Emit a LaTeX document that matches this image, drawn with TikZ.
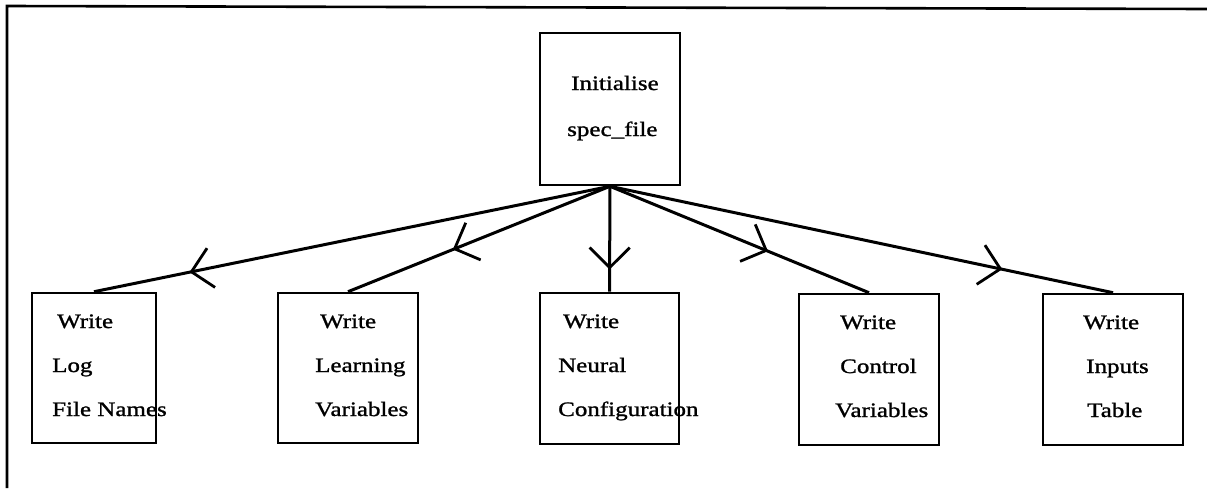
\documentclass[tikz,border=0pt]{standalone}
\usepackage{fontspec}
\setmainfont{Liberation Serif}[FakeStretch=1.22,FakeBold=1.2]
\usetikzlibrary{arrows.meta,decorations.markings}
\begin{document}
\begin{tikzpicture}[x=1pt,y=-1pt,
  box/.style={draw=black,line width=2.6pt,minimum width=#1,minimum height=151pt,inner sep=0pt},
  lbl/.style={anchor=base west,inner sep=0pt,font=\fontsize{20.5}{24}\selectfont},
  conn/.style={line width=3pt,postaction={decorate},
    decoration={markings,mark=at position #1 with {\arrow[line width=2.8pt]{Straight Barb[length=20pt,width=40pt]}}}},
  frame/.style={line width=2.6pt}]
\useasboundingbox (0,0) rectangle (1207,488);
% outer frame (top and left edges only)
\coordinate (fbl) at (7,488);
\coordinate (ftl) at (7,6);
\coordinate (ftr) at (1207,9);
\draw[frame] (fbl) -- (ftl) -- (ftr);
% boxes
\node[box=140pt,minimum height=152pt] (top) at (610,109) {};
\node[box=124pt,minimum height=150pt] (b1) at (94,368) {};
\node[box=140pt,minimum height=150pt] (b2) at (348,368) {};
\node[box=139pt] (b3) at (609.5,368.5) {};
\node[box=140pt] (b4) at (869,369.5) {};
\node[box=140pt] (b5) at (1113,369.5) {};
% texts
\node[lbl] (ta) at (571,90) {Initialise};
\node[lbl] (tb) at (567,136) {spec\_file};
\node[lbl] (a1) at (57,328) {Write};
\node[lbl] (a2) at (52,372) {Log};
\node[lbl] (a3) at (52,416) {File Names};
\node[lbl] (c1) at (320,328) {Write};
\node[lbl] (c2) at (315,372) {Learning};
\node[lbl] (c3) at (315,416) {Variables};
\node[lbl] (d1) at (563,328) {Write};
\node[lbl] (d2) at (558,372) {Neural};
\node[lbl] (d3) at (558,416) {Configuration};
\node[lbl] (e1) at (840,329) {Write};
\node[lbl] (e2) at (840,373) {Control};
\node[lbl] (e3) at (835,417) {Variables};
\node[lbl] (f1) at (1083,329) {Write};
\node[lbl] (f2) at (1086,373) {Inputs};
\node[lbl] (f3) at (1087,417) {Table};
% connectors
\draw[conn=0.815] (top.south) -- (b1.north);
\draw[conn=0.6] (top.south) -- (b2.north);
\draw[conn=0.79] (top.south) -- (b3.north);
\draw[conn=0.61] (top.south) -- (b4.north);
\draw[conn=0.78] (top.south) -- (b5.north);
\end{tikzpicture}
\end{document}
